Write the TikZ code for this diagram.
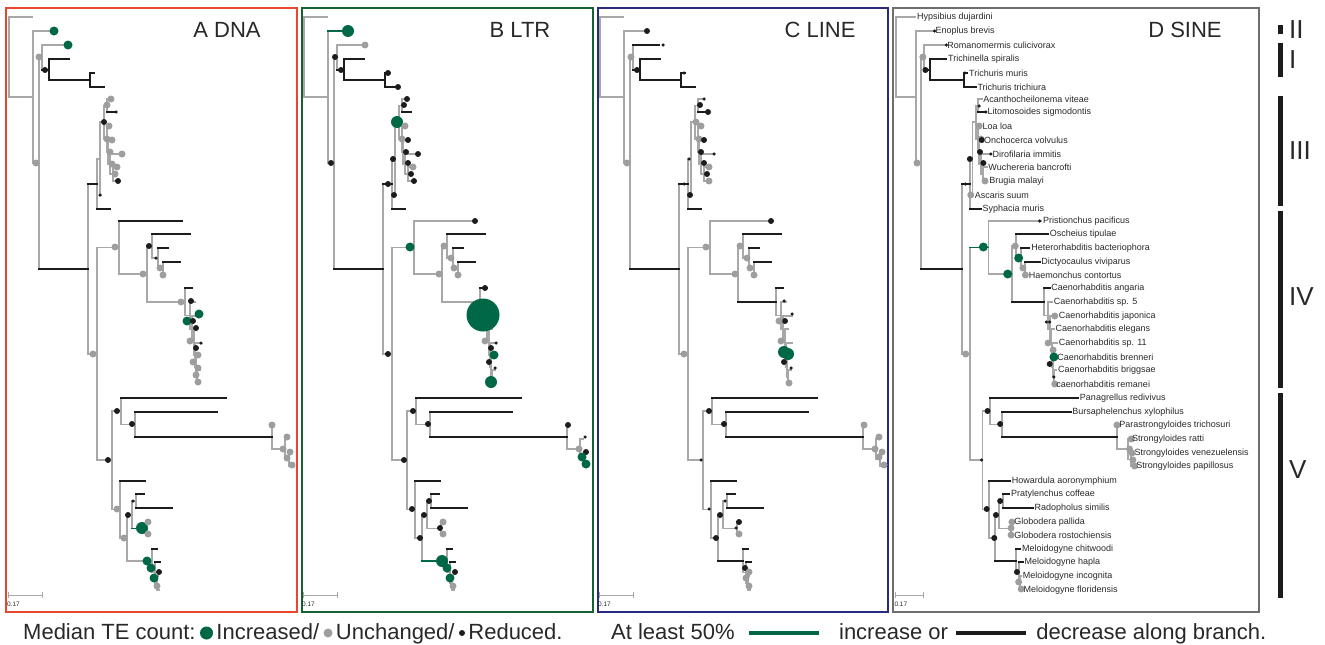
\documentclass[tikz,border=0pt]{standalone}
\usepackage{fontspec}
\setmainfont{Liberation Sans}
\usepackage{xcolor}
\usepackage{tikz}
\usetikzlibrary{positioning}

\definecolor{tegreen}{RGB}{0,104,71}
\definecolor{tegray}{RGB}{168,168,168}
\definecolor{dotgray}{RGB}{158,158,158}
\definecolor{teblack}{RGB}{28,28,28}
\definecolor{tetext}{RGB}{40,40,40}
\definecolor{frameA}{RGB}{232,70,46}
\definecolor{frameB}{RGB}{20,98,52}
\definecolor{frameC}{RGB}{42,42,128}
\definecolor{frameD}{RGB}{110,110,110}

\newcommand{\treebase}{%
\foreach \x/\ya/\yb/\c in {9/17/97/gr, 33/31/163/gr, 39/57/269/gr, 42/45/70/gr, 49/59/80/bk, 90/73/87/bk,
  88/184/354/gr, 97/159/209/gr, 100/122/195/gr, 104/105.5/139/gr, 107/99/112/gr, 107/126/152/gr,
  108/140/164/gr, 110/154/174/gr, 113/167/181/gr, 97/247.5/460/gr, 119/221/274/gr, 147/246/302/gr,
  152/234/258/gr, 158/248/268.5/gr, 163/262/275/gr, 185/288/315.5/gr, 190/302/329/gr, 192/316/342/gr,
  194/329/355/gr, 195/343/367/gr, 196/357/377/gr, 197/370/384/gr, 112/411/509.5/gr, 121/398/424.5/gr,
  135/412/437/gr, 272/425/449/gr, 285/439/459.5/gr, 289/453/466/gr, 120/481/538/gr, 127/515/561/gr,
  132/501/528.5/gr, 136/494/508/gr, 146/522/535/gr, 152/549/572.5/gr, 155/562/583/gr, 157/576/590/gr}
  \draw[br,\c] (\x,\ya) -- (\x,\yb);
\foreach \xa/\xb/\y/\c in {9/32/17/gr, 9/33/97/gr, 33/54/31/gr, 33/39/163/gr, 39/42/57/gr, 39/88/269/bk,
  42/68/45/gr, 42/49/70/bk, 49/69/59/bk, 49/90/80/bk, 90/94/73/bk, 90/104/87/bk, 88/97/184/bk,
  88/97/354/gr, 97/100/159/gr, 97/110/209/bk, 100/104/122/gr, 100/101/195/gr, 104/107/105.5/gr,
  104/107/139/gr, 107/111/99/gr, 107/116/112/bk, 107/110/126/gr, 107/108/152/gr, 108/112/140/gr,
  108/110/164/gr, 110/122/154/gr, 110/113/174/gr, 113/117/167/gr, 113/118/181/gr, 97/119/247.5/gr,
  97/112/460/gr, 119/182/221/gr, 119/147/274/gr, 147/152/246/gr, 147/185/302/gr, 152/190/234/bk,
  152/158/258/gr, 158/168/248/bk, 158/163/268.5/gr, 163/180/262/bk, 163/165/275/gr, 185/192/288/bk,
  185/190/315.5/gr, 190/195/302/gr, 190/192/329/gr, 192/201/316/gr, 192/194/342/gr, 194/197/329/gr,
  194/195/355/gr, 195/201/343/gr, 195/196/367/gr, 196/199/357/gr, 196/197/377/gr, 197/200/370/gr,
  197/198/384/gr, 112/121/411/gr, 112/120/509.5/gr, 121/226/398/bk, 121/135/424.5/gr, 135/217/412/bk,
  135/272/437/bk, 272/273/425/gr, 272/285/449/gr, 285/288/439/gr, 285/289/459.5/gr, 289/291/453/gr,
  289/293/466/gr, 120/145/481/bk, 120/127/538/gr, 127/132/515/gr, 127/152/561/gr, 132/136/501/gr,
  132/146/528.5/gr, 136/144/494/bk, 136/172/508/bk, 146/148/522/gr, 146/148/535/gr, 152/157/549/bk,
  152/155/572.5/gr, 155/160/562/bk, 155/157/583/gr, 157/158/576/gr, 157/159/590/gr}
  \draw[br,\c] (\xa,\y) -- (\xb,\y);
\draw[sbar] (8,592) -- (8,598) (8,595) -- (42,595) (42,592) -- (42,598);
\node[sblab] (sb) at (7,604) {0.17};
}

\begin{document}
\begin{tikzpicture}[x=1pt, y=-1pt,
  br/.style={line width=1.8pt, line cap=rect},
  gr/.style={tegray}, bk/.style={teblack}, gn/.style={tegreen},
  dot/.style={circle, inner sep=0pt, draw=none},
  gdot/.style={dot, fill=tegreen, minimum size=9pt},
  gbig/.style={dot, fill=tegreen, minimum size=12pt},
  ghuge/.style={dot, fill=tegreen, minimum size=33pt},
  hdot/.style={dot, fill=dotgray, minimum size=7pt},
  kdot/.style={dot, fill=teblack, minimum size=6pt},
  ksm/.style={dot, fill=teblack, minimum size=3.5pt},
  frm/.style={line width=2pt},
  ttl/.style={font=\fontsize{22}{26}\selectfont, text=tetext},
  tip/.style={anchor=west, inner sep=1.5pt, font=\fontsize{9}{10}\selectfont, text=tetext},
  sbar/.style={line width=0.7pt, tegray},
  sblab/.style={anchor=west, inner sep=0pt, font=\fontsize{6.5}{7}\selectfont, text=tetext},
  lg/.style={inner sep=0pt, text height=16pt, text depth=4pt, font=\fontsize{22}{26}\selectfont, text=tetext},
  clade/.style={anchor=west, inner sep=0pt, font=\fontsize{26}{30}\selectfont, text=tetext}]

\useasboundingbox (0,0) rectangle (1325,645);

\draw[frm, frameA] (6,8) rectangle (297,612);
\draw[frm, frameB] (302,8) rectangle (593,612);
\draw[frm, frameC] (598,8) rectangle (888,612);
\draw[frm, frameD] (893,8) rectangle (1259,612);

\node[ttl] (ttlA) at (227,30) {A DNA};
\node[ttl] (ttlB) at (520,30) {B LTR};
\node[ttl] (ttlC) at (820,30) {C LINE};
\node[ttl] (ttlD) at (1185,30) {D SINE};

\begin{scope}
\treebase
\draw[br,bk] (119,221) -- (182,221);
\draw[br,gn] (132,528.5) -- (146,528.5);
\foreach \x/\y/\s in {54/31/gdot, 68/45/gdot, 39/57/hdot, 45/70/kdot, 36/163/hdot,
  111/99/hdot, 107/105/hdot, 116/112/ksm, 104/122/kdot, 109/126/hdot, 107/139/hdot, 112/140/hdot,
  110/152/hdot, 122/154/hdot, 112/164/hdot, 117/167/hdot, 115/174/hdot, 118/181/kdot, 100/195/ksm,
  93/354/hdot, 115/247/hdot, 143/274/hdot, 149/246/kdot, 156/258/ksm, 160/268/hdot, 163/275/hdot,
  181/302/hdot, 191/301/kdot, 199/314/gdot, 187/321/gdot, 193/321/kdot, 196/328/kdot, 190/341/hdot,
  201/343/ksm, 196/348/kdot, 198/355/hdot, 193/362/hdot, 198/368/hdot, 196/375/hdot, 198/382/hdot,
  108/460/kdot, 117/411/kdot, 132/424/kdot, 272/425/hdot, 287/437/hdot, 283/449/hdot, 290/452/hdot,
  287/458/hdot, 292/465/hdot, 117/509/hdot, 124/538/hdot, 128/515/kdot, 133/501/ksm, 142/528/gbig,
  148/522/hdot, 148/534/hdot, 147/561/gdot, 151/568/gdot, 159/572/kdot, 154/578/gdot, 157/586/hdot}
  \node[\s] (a\x-\y) at (\x,\y) {};
\end{scope}

\begin{scope}[xshift=295pt]
\treebase
\draw[br,gn] (33,31) -- (54,31);
\draw[br,gn] (127,561) -- (152,561);
\foreach \x/\y/\s in {53/31/gbig, 70/45/hdot, 40/57/kdot, 46/70/kdot, 93/73/kdot, 103/87/kdot, 36/163/kdot,
  112/99/kdot, 109/105/kdot, 102/122/gbig, 110/126/hdot, 107/139/hdot, 113/140/kdot, 111/152/kdot,
  123/154/kdot, 113/163/kdot, 118/167/hdot, 116/174/kdot, 119/181/kdot, 98/159/kdot, 93/184/kdot,
  99/195/kdot, 93/354/kdot, 115/247/gdot, 149/246/hdot, 144/274/hdot, 156/258/hdot, 159/268/hdot,
  163/275/hdot, 180/221/kdot, 190/288/kdot, 188/315/ghuge, 190/341/hdot, 201/343/ksm, 196/348/kdot,
  199/355/gdot, 194/362/kdot, 200/368/ksm, 196/382/gbig, 109/460/kdot, 118/411/kdot, 133/424/kdot,
  273/425/kdot, 290/437/ksm, 284/449/hdot, 291/452/kdot, 287/457/gdot, 291/464/gdot, 117/509/kdot,
  129/515/kdot, 134/501/kdot, 125/538/kdot, 145/528/kdot, 148/522/hdot, 148/534/hdot, 147/561/gbig,
  152/568/gdot, 160/572/kdot, 155/578/gdot, 158/586/hdot}
  \node[\s] (b\x-\y) at (\x,\y) {};
\end{scope}

\begin{scope}[xshift=591pt]
\treebase
\draw[br,bk] (42,45) -- (68,45);
\draw[br,bk] (147,302) -- (185,302);
\draw[br,bk] (127,561) -- (152,561);
\foreach \x/\y/\s in {56/31/kdot, 72/45/ksm, 40/57/hdot, 46/70/kdot, 93/73/ksm, 36/163/hdot,
  113/99/ksm, 109/105/kdot, 117/112/kdot, 105/122/hdot, 110/126/hdot, 108/139/hdot, 113/140/kdot,
  110/152/kdot, 123/154/ksm, 113/163/kdot, 118/167/hdot, 116/174/kdot, 118/181/hdot, 98/159/ksm,
  93/184/ksm, 99/195/kdot, 115/247/hdot, 149/246/hdot, 144/274/hdot, 156/258/hdot, 159/268/hdot,
  163/275/hdot, 180/221/kdot, 193/301/ksm, 201/314/ksm, 194/321/kdot, 188/321/hdot, 190/341/hdot,
  193/352/gbig, 197/354/gbig, 193/362/kdot, 200/368/ksm, 198/383/hdot, 93/354/hdot, 110/460/ksm,
  118/411/kdot, 133/424/kdot, 273/425/hdot, 288/437/hdot, 284/449/hdot, 291/452/hdot, 288/457/hdot,
  293/465/hdot, 118/509/ksm, 129/515/kdot, 134/501/ksm, 125/538/kdot, 148/522/kdot, 145/528/ksm,
  148/534/hdot, 154/568/kdot, 158/572/hdot, 155/578/hdot, 158/586/hdot}
  \node[\s] (c\x-\y) at (\x,\y) {};
\end{scope}

\begin{scope}[xshift=888.44pt, xscale=0.84]
\treebase
\draw[br,gn] (97,247.5) -- (119,247.5);
\draw[br,bk] (147,302) -- (185,302);
\draw[br,bk] (127,561) -- (152,561);
\foreach \x/\y/\s in {55/31/ksm, 69/45/ksm, 41/57/hdot, 44/70/kdot, 34/163/hdot, 91/73/ksm,
  108/106/ksm, 116/112/ksm, 108/126/hdot, 110/139/hdot, 111/140/kdot, 109/152/kdot, 122/154/ksm,
  113/163/kdot, 115/181/hdot, 97/159/kdot, 92/184/ksm, 98/195/hdot, 92/354/hdot, 113/247/gdot,
  142/274/gdot, 151/246/hdot, 155/258/gdot, 160/268/hdot, 163/275/hdot, 180/221/ksm, 188/322/ksm,
  192/322/ksm, 198/316/hdot, 190/343/hdot, 196/350/hdot, 197/357/gdot, 192/364/kdot, 197/377/ksm,
  198/384/hdot, 111/460/ksm, 118/411/kdot, 133/424/kdot, 272/425/hdot, 289/439/hdot, 287/449/hdot,
  290/453/hdot, 291/460/hdot, 293/466/hdot, 117/509/kdot, 128/515/kdot, 133/501/kdot, 126/538/kdot,
  147/522/hdot, 146/528/hdot, 146/535/hdot, 153/572/kdot, 155/582/hdot, 158/589/hdot}
  \node[\s] (d\x-\y) at (\x,\y) {};
\foreach \x/\y/\n in {32/17/Hypsibius dujardini, 54/31/Enoplus brevis, 68/45/Romanomermis culicivorax,
  69/59/Trichinella spiralis, 94/73/Trichuris muris, 104/87/Trichuris trichiura,
  111/99/Acanthocheilonema viteae, 116/112/Litomosoides sigmodontis, 110/126/Loa loa,
  112/140/Onchocerca volvulus, 122/154/Dirofilaria immitis, 117/167/Wuchereria bancrofti,
  118/181/Brugia malayi, 101/195/Ascaris suum, 110/209/Syphacia muris, 182/221/Pristionchus pacificus,
  190/234/Oscheius tipulae, 168/248/Heterorhabditis bacteriophora, 180/262/Dictyocaulus viviparus,
  165/275/Haemonchus contortus, 192/288/Caenorhabditis angaria, 195/302/Caenorhabditis sp. 5,
  201/316/Caenorhabditis japonica, 197/329/Caenorhabditis elegans, 201/343/Caenorhabditis sp. 11,
  199/357/Caenorhabditis brenneri, 200/370/Caenorhabditis briggsae, 198/384/caenorhabditis remanei,
  226/398/Panagrellus redivivus, 217/412/Bursaphelenchus xylophilus, 273/425/Parastrongyloides trichosuri,
  288/439/Strongyloides ratti, 291/453/Strongyloides venezuelensis, 293/466/Strongyloides papillosus,
  145/481/Howardula aoronymphium, 144/494/Pratylenchus coffeae, 172/508/Radopholus similis,
  148/522/Globodera pallida, 148/535/Globodera rostochiensis, 157/549/Meloidogyne chitwoodi,
  160/562/Meloidogyne hapla, 158/576/Meloidogyne incognita, 159/590/Meloidogyne floridensis}
  \node[tip] (lb\y) at (\x,\y) {\n};
\end{scope}

\draw[line width=5pt, teblack] (1280,25) -- (1280,34);
\draw[line width=5pt, teblack] (1280,43) -- (1280,77);
\draw[line width=5pt, teblack] (1280,96) -- (1280,206);
\draw[line width=5pt, teblack] (1280,211) -- (1280,388);
\draw[line width=5pt, teblack] (1280,393) -- (1280,598);
\node[clade] (cII) at (1289,30) {II};
\node[clade] (cI) at (1289,60) {I};
\node[clade] (cIII) at (1289,151) {III};
\node[clade] (cIV) at (1289,297) {IV};
\node[clade] (cV) at (1289,470) {V};

\node[lg, anchor=west] (lgmed) at (23,633) {Median TE count:};
\node[dot, fill=tegreen, minimum size=13pt, right=4pt of lgmed] (lginc) {};
\node[lg, right=3pt of lginc] (lgincT) {Increased/};
\node[dot, fill=dotgray, minimum size=9pt, right=4pt of lgincT] (lgunc) {};
\node[lg, right=3pt of lgunc] (lguncT) {Unchanged/};
\node[dot, fill=teblack, minimum size=6pt, right=4pt of lguncT] (lgred) {};
\node[lg, right=3pt of lgred] (lgredT) {Reduced.};
\node[lg, anchor=west] (lgat) at (611,633) {At least 50\%};
\coordinate[right=14pt of lgat] (lgg1);
\coordinate[right=70pt of lgg1] (lgg2);
\draw[line width=4.5pt, tegreen] (lgg1) -- (lgg2);
\node[lg, right=20pt of lgg2] (lgincr) {increase or};
\coordinate[right=8pt of lgincr] (lgk1);
\coordinate[right=70pt of lgk1] (lgk2);
\draw[line width=4.5pt, teblack] (lgk1) -- (lgk2);
\node[lg, right=10pt of lgk2] (lgdec) {decrease along branch.};
\end{tikzpicture}
\end{document}
